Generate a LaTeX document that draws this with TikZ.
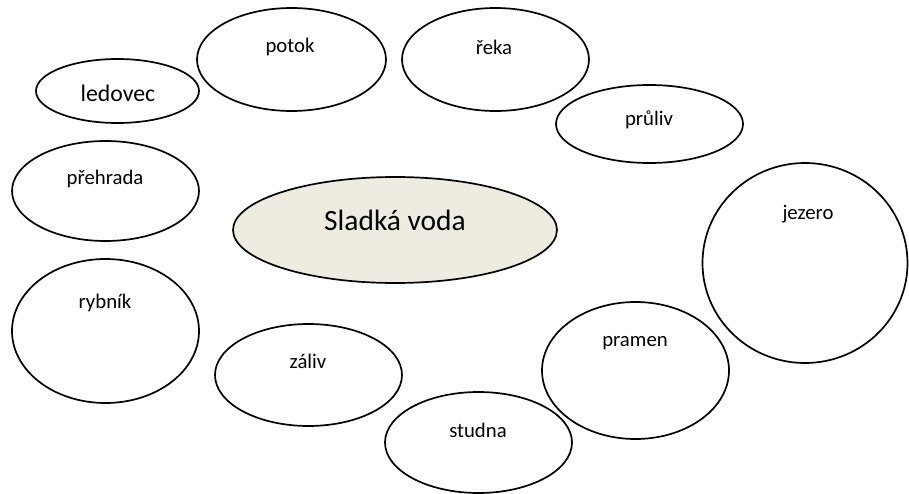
\documentclass[tikz,border=0pt]{standalone}
\usepackage{fontspec}
\setmainfont{Carlito}
\usetikzlibrary{shapes.geometric}

\definecolor{sweetfill}{HTML}{EEECE1}

\tikzset{
  bubble/.style={draw, ellipse, line width=0.9pt, inner sep=0pt, outer sep=0pt},
  bubblesize/.style 2 args={minimum width=#1*0.53pt, minimum height=#2*0.53pt},
  word/.style={inner sep=0pt, font=\fontsize{11}{13}\selectfont}
}

\begin{document}
\begin{tikzpicture}[x=0.53pt, y=-0.53pt]
    \useasboundingbox (0, 0) rectangle (909, 494);

    % centre
    \node [bubble, bubblesize={324}{106}, fill=sweetfill] (sladka) at (395, 230) {};
    \node [word, font=\fontsize{15.6}{19}\selectfont] (sladka-text) at (395, 220) {Sladká voda};

    % top row
    \node [bubble, bubblesize={163}{64}] (ledovec) at (117.5, 91) {};
    \node [word, font=\fontsize{12.6}{15}\selectfont] (ledovec-text) at (118, 93) {ledovec};

    \node [bubble, bubblesize={189}{103}] (potok) at (291.5, 59.5) {};
    \node [word] (potok-text) at (290, 47) {potok};

    \node [bubble, bubblesize={187}{103}] (reka) at (495.5, 59.5) {};
    \node [word] (reka-text) at (494, 47) {řeka};

    \node [bubble, bubblesize={187}{78}] (pruliv) at (649.5, 124) {};
    \node [word] (pruliv-text) at (649, 120) {průliv};

    % left side
    \node [bubble, bubblesize={187}{100}] (prehrada) at (105.5, 191) {};
    \node [word] (prehrada-text) at (105, 179) {přehrada};

    \node [bubble, bubblesize={187}{144}] (rybnik) at (105.5, 331) {};
    \node [word] (rybnik-text) at (105, 303) {rybník};

    % bottom row
    \node [bubble, bubblesize={187}{102}] (zaliv) at (308.5, 375) {};
    \node [word] (zaliv-text) at (308, 361) {záliv};

    \node [bubble, bubblesize={187}{101}] (studna) at (478.5, 442.5) {};
    \node [word] (studna-text) at (478, 430) {studna};

    \node [bubble, bubblesize={187}{137}] (pramen) at (635.5, 370.5) {};
    \node [word] (pramen-text) at (635, 343) {pramen};

    % right side
    \node [bubble, bubblesize={205}{200}] (jezero) at (805, 263) {};
    \node [word] (jezero-text) at (808, 214) {jezero};
\end{tikzpicture}
\end{document}
